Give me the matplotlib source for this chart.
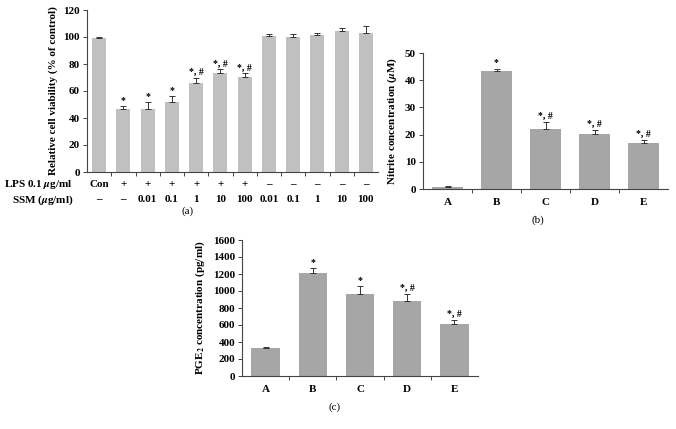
import numpy as np
import matplotlib
matplotlib.use("Agg")
import matplotlib.pyplot as plt

# ---- data ----
# (a) cell viability
viab_lps = ["Con", "+", "+", "+", "+", "+", "+", "\u2013", "\u2013", "\u2013", "\u2013", "\u2013"]
viab_ssm = ["\u2013", "\u2013", "0.01", "0.1", "1", "10", "100", "0.01", "0.1", "1", "10", "100"]
viab_mean = [99.5, 46.7, 46.7, 51.6, 66.0, 73.5, 70.5, 100.4, 99.9, 101.4, 104.8, 102.9]
viab_err = [0.4, 2.5, 5.2, 4.8, 4.0, 2.5, 2.5, 1.6, 2.1, 1.6, 2.0, 4.9]
viab_sig = ["", "*", "*", "*", "*, #", "*, #", "*, #", "", "", "", "", ""]

# (b) nitrite
groups = ["A", "B", "C", "D", "E"]
nitrite_mean = [0.8, 43.4, 22.0, 20.4, 17.0]
nitrite_err = [0.3, 0.9, 2.6, 1.4, 0.9]
nitrite_sig = ["", "*", "*, #", "*, #", "*, #"]

# (c) PGE2
pge2_mean = [330, 1214, 965, 888, 617]
pge2_err = [8, 52, 92, 75, 40]
pge2_sig = ["", "*", "*", "*, #", "*, #"]

W, H = 676, 429
plt.rcParams['font.family'] = ['Liberation Serif', 'DejaVu Serif']
plt.rcParams['font.weight'] = 'bold'
plt.rcParams['mathtext.fontset'] = 'stix'
FS = 8

fig = plt.figure(figsize=(W / 100, H / 100), dpi=100)


def box(left, right, bottom, top):
    # pixel box -> figure fraction rect
    return [left / W, 1 - bottom / H, (right - left) / W, (bottom - top) / H]


def style(ax, ymax, ystep):
    for s in ['top', 'right']:
        ax.spines[s].set_visible(False)
    for s in ['left', 'bottom']:
        ax.spines[s].set_color('#444444')
        ax.spines[s].set_linewidth(0.8)
    ax.set_ylim(0, ymax)
    ax.set_yticks(np.arange(0, ymax + 1, ystep))
    ax.tick_params(axis='y', length=3, width=0.7, color='#444444', labelsize=FS, pad=2)
    for t in ax.get_yticklabels():
        t.set_fontweight('bold')


def bars(ax, mean, err, sig, color, width, off):
    x = np.arange(len(mean))
    ax.bar(x, mean, width=width, color=color, zorder=2)
    ax.errorbar(x, mean, yerr=[np.zeros(len(err)), err], fmt='none',
                ecolor='#333333', elinewidth=0.7, capsize=2, capthick=0.7, zorder=3)
    for xi, m, e, s in zip(x, mean, err, sig):
        if s:
            ax.text(xi, m + e + off, s, ha='center', va='bottom', fontsize=FS - 1,
                    fontweight='bold')
    ax.set_xlim(-0.5, len(mean) - 0.5)
    # ticks sit between categories
    ax.set_xticks(np.arange(0.5, len(mean) - 0.5, 1))
    ax.set_xticklabels([])
    ax.tick_params(axis='x', length=3, width=0.7, color='#444444', direction='out')


# ---- (a) ----
ax1 = fig.add_axes(box(87, 378, 172, 10))
bars(ax1, viab_mean, viab_err, viab_sig, '#c0c0c0', 0.58, 0.5)
style(ax1, 120, 20)
ax1.set_ylabel('Relative cell viability (% of control)', fontsize=FS, fontweight='bold', labelpad=4)
for i, (a, b) in enumerate(zip(viab_lps, viab_ssm)):
    xf = ax1.transData.transform((i, 0))[0] / W
    fig.text(xf, 1 - 185 / H, a, ha='center', va='center', fontsize=FS, fontweight='bold')
    fig.text(xf, 1 - 200 / H, b, ha='center', va='center', fontsize=FS, fontweight='bold')
fig.text(73 / W, 1 - 185 / H, r'LPS 0.1 $\mu$g/ml', ha='right', va='center', fontsize=FS, fontweight='bold')
fig.text(73 / W, 1 - 200 / H, r'SSM ($\mu$g/ml)', ha='right', va='center', fontsize=FS, fontweight='bold')
fig.text(188 / W, 1 - 211 / H, '(a)', ha='center', va='center', fontsize=FS, fontweight='normal')

# ---- (b) ----
ax2 = fig.add_axes(box(423, 668, 189, 53))
bars(ax2, nitrite_mean, nitrite_err, nitrite_sig, '#a6a6a6', 0.62, 0.5)
style(ax2, 50, 10)
ax2.set_ylabel(r'Nitrite concentration ($\mu$M)', fontsize=FS, fontweight='bold', labelpad=4)
for i, g in enumerate(groups):
    xf = ax2.transData.transform((i, 0))[0] / W
    fig.text(xf, 1 - 202 / H, g, ha='center', va='center', fontsize=FS, fontweight='bold')
fig.text(538 / W, 1 - 220 / H, '(b)', ha='center', va='center', fontsize=FS, fontweight='normal')

# ---- (c) ----
ax3 = fig.add_axes(box(242, 478, 376, 240))
bars(ax3, pge2_mean, pge2_err, pge2_sig, '#a6a6a6', 0.6, 15)
style(ax3, 1600, 200)
ax3.set_ylabel(r'PGE$_2$ concentration (pg/ml)', fontsize=FS, fontweight='bold', labelpad=4)
for i, g in enumerate(groups):
    xf = ax3.transData.transform((i, 0))[0] / W
    fig.text(xf, 1 - 390 / H, g, ha='center', va='center', fontsize=FS, fontweight='bold')
fig.text(335 / W, 1 - 407 / H, '(c)', ha='center', va='center', fontsize=FS, fontweight='normal')

fig.savefig('out.png', dpi=100)
